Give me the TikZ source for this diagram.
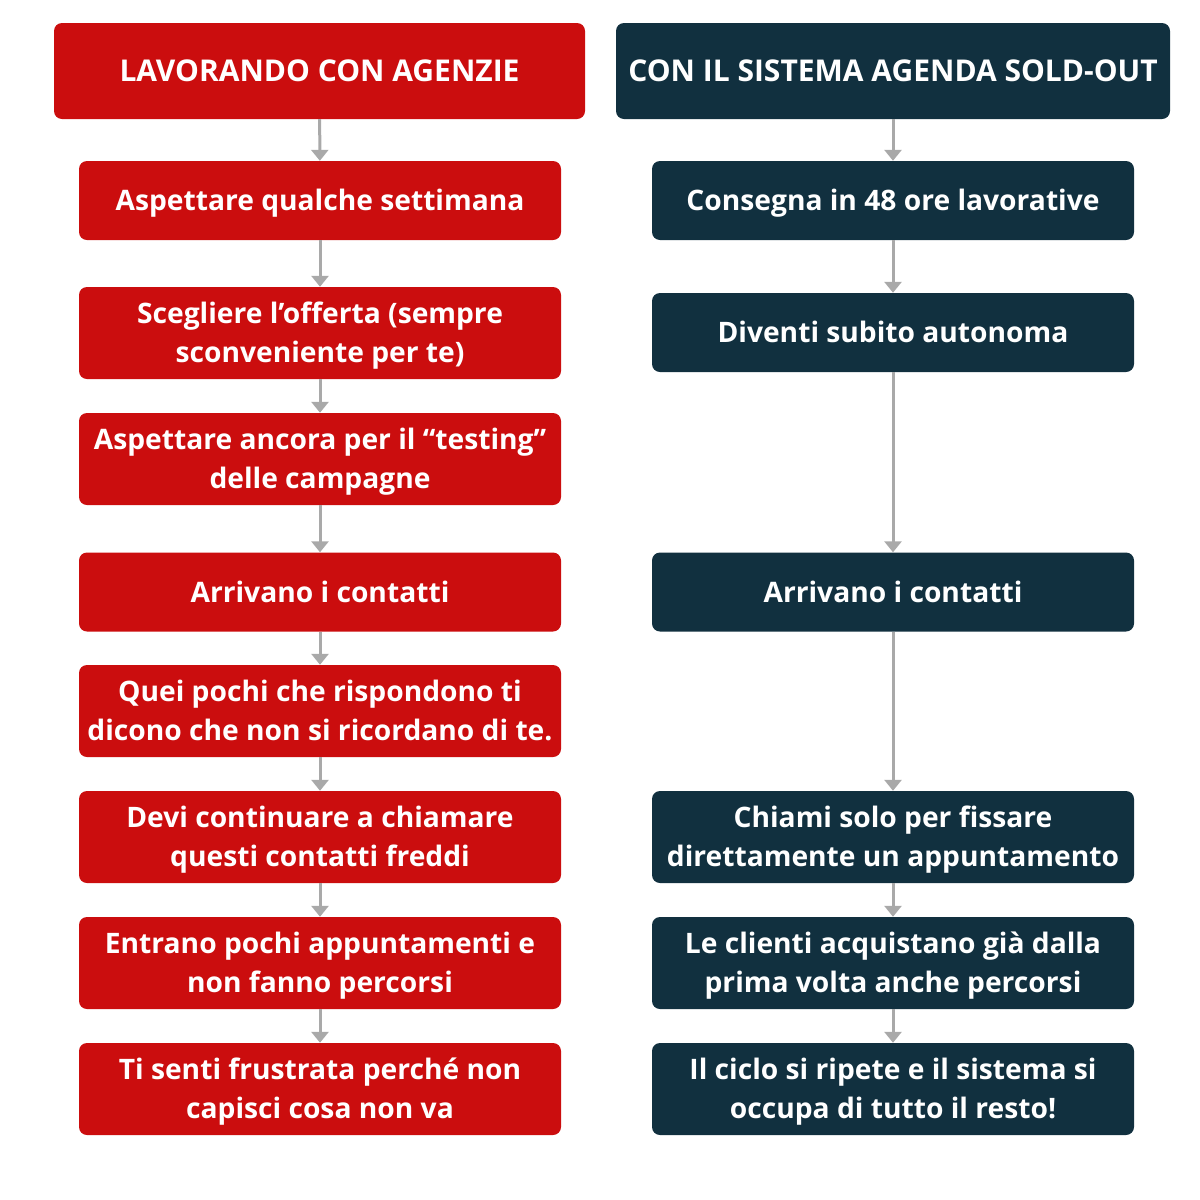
\documentclass[tikz,border=0pt]{standalone}
\usepackage{fontspec}
\setmainfont{Open Sans}
\usetikzlibrary{arrows.meta}
\definecolor{agred}{HTML}{CB0D0E}
\definecolor{agdark}{HTML}{11303F}
\definecolor{arrgray}{HTML}{A9A9A9}
\newcommand{\onestrut}{\rule{0pt}{27.3pt}}
\newcommand{\twostrut}{\rule{0pt}{66.3pt}}
\newcommand{\botstrut}{\rule[-7pt]{0pt}{7pt}}
\begin{document}
\begin{tikzpicture}[x=1pt,y=-1pt,
	box/.style={rounded corners=8pt, text=white, align=center, inner sep=0pt,
		font=\bfseries\fontsize{28.2}{39}\selectfont, minimum width=482pt},
	redbox/.style={box, fill=agred},
	darkbox/.style={box, fill=agdark},
	one/.style={minimum height=79pt, execute at begin node=\onestrut, execute at end node=\botstrut},
	two/.style={minimum height=92pt, execute at begin node=\twostrut, execute at end node=\botstrut},
	head/.style={minimum height=96pt, font=\bfseries\fontsize{30}{39}\selectfont},
	link/.style={arrgray, line width=3pt, -{Triangle[width=17pt,length=11pt]}}]
	\useasboundingbox (0,0) rectangle (1200,1200) ;
	% agenzie
		\node (lh)[redbox, head, minimum width=531pt] at (319.5, 71) {LAVORANDO CON AGENZIE} ; 
		\node (l1)[redbox, one] at (320, 200.5) {Aspettare qualche settimana} ; 
		\node (l2)[redbox, two] at (320, 333) {Scegliere l’offerta (sempre\\sconveniente per te)} ; 
		\node (l3)[redbox, two] at (320, 459) {Aspettare ancora per il “testing”\\delle campagne} ; 
		\node (l4)[redbox, one] at (320, 592) {Arrivano i contatti} ; 
		\node (l5)[redbox, two] at (320, 711) {Quei pochi che rispondono ti\\dicono che non si ricordano di te.} ; 
		\node (l6)[redbox, two] at (320, 837) {Devi continuare a chiamare\\questi contatti freddi} ; 
		\node (l7)[redbox, two] at (320, 963) {Entrano pochi appuntamenti e\\non fanno percorsi} ; 
		\node (l8)[redbox, two] at (320, 1089) {Ti senti frustrata perché non\\capisci cosa non va} ; 
	% sistema
		\node (rh)[darkbox, head, minimum width=554pt] at (893, 71) {CON IL SISTEMA AGENDA SOLD-OUT} ; 
		\node (r1)[darkbox, one] at (893, 200.5) {Consegna in 48 ore lavorative} ; 
		\node (r2)[darkbox, one] at (893, 332.5) {Diventi subito autonoma} ; 
		\node (r3)[darkbox, one] at (893, 592) {Arrivano i contatti} ; 
		\node (r4)[darkbox, two] at (893, 837) {Chiami solo per fissare\\direttamente un appuntamento} ; 
		\node (r5)[darkbox, two] at (893, 963) {Le clienti acquistano già dalla\\prima volta anche percorsi} ; 
		\node (r6)[darkbox, two] at (893, 1089) {Il ciclo si ripete e il sistema si\\occupa di tutto il resto!} ; 
	\draw[link] (lh) -- (l1) ;
	\draw[link] (l1) -- (l2) ;
	\draw[link] (l2) -- (l3) ;
	\draw[link] (l3) -- (l4) ;
	\draw[link] (l4) -- (l5) ;
	\draw[link] (l5) -- (l6) ;
	\draw[link] (l6) -- (l7) ;
	\draw[link] (l7) -- (l8) ;
	\draw[link] (rh) -- (r1) ;
	\draw[link] (r1) -- (r2) ;
	\draw[link] (r2) -- (r3) ;
	\draw[link] (r3) -- (r4) ;
	\draw[link] (r4) -- (r5) ;
	\draw[link] (r5) -- (r6) ;
\end{tikzpicture}
\end{document}
